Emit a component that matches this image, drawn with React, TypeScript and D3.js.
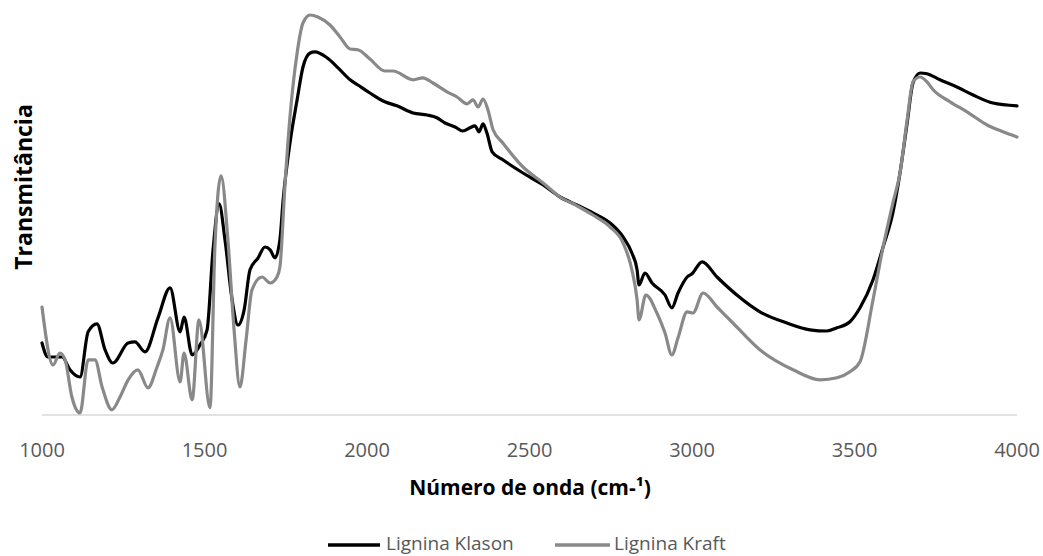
import React from "react";
import * as d3 from "d3";

// FTIR spectra of two lignins (arbitrary transmittance units)
const klasonWavenumber = [
  1000, 1018, 1062, 1086, 1117, 1142, 1169, 1194, 1218, 1265, 1286, 1317, 1357, 1394, 1425, 1437, 1462,
  1486, 1508, 1526, 1545, 1563, 1585, 1603, 1622, 1640, 1665, 1686, 1702, 1717, 1732, 1742, 1763, 1785,
  1803, 1825, 1840, 1877, 1911, 1948, 1972, 2009, 2055, 2092, 2142, 2185, 2215, 2240, 2271, 2295, 2317,
  2332, 2345, 2357, 2369, 2385, 2418, 2480, 2542, 2594, 2646, 2695, 2748, 2788, 2815, 2831, 2837, 2855,
  2877, 2917, 2938, 2957, 2985, 3000, 3031, 3077, 3138, 3209, 3292, 3363, 3415, 3446, 3486, 3517, 3557,
  3588, 3618, 3640, 3662, 3680, 3702, 3723, 3763, 3815, 3865, 3926, 4000,
];
const klasonT = [
  18, 14.5, 14.5, 11.3, 9.5, 20.8, 22.8, 16.3, 13, 18, 18.3, 15.8, 24.3, 31.8, 20.8, 24.5, 15,
  17.5, 21.3, 41, 52.8, 43.8, 28.8, 22.5, 26.3, 36.3, 39.3, 42, 41.3, 39.3, 43.8, 53.8, 68, 78.8,
  87, 90.5, 90.8, 89.3, 86.8, 83.8, 82.5, 80.5, 78.3, 77.3, 75.5, 75, 74.3, 73, 72, 71, 71.8,
  72.3, 70.8, 72.8, 70.5, 65.8, 63.8, 60.5, 57.5, 54.5, 52.5, 50.5, 48, 44.5, 40.5, 36.3, 32.5, 35.5,
  33, 30, 26.8, 30.5, 34.5, 35.3, 38.3, 34.5, 30, 25.8, 23, 21.3, 21, 21.8, 23.3, 26.8, 33.8,
  42, 50.5, 60.5, 73, 83, 85.5, 85.3, 83.8, 82, 80, 78, 77.3,
];

const kraftWavenumber = [
  1000, 1034, 1055, 1071, 1092, 1117, 1142, 1163, 1185, 1215, 1240, 1265, 1295, 1326, 1354, 1372, 1394,
  1425, 1437, 1462, 1483, 1517, 1532, 1551, 1572, 1591, 1609, 1628, 1646, 1677, 1702, 1723, 1732, 1748,
  1763, 1785, 1803, 1825, 1849, 1886, 1917, 1948, 1972, 2009, 2055, 2080, 2142, 2172, 2203, 2246, 2277,
  2308, 2326, 2342, 2357, 2372, 2388, 2418, 2480, 2542, 2594, 2646, 2695, 2748, 2788, 2815, 2831, 2837,
  2858, 2892, 2917, 2938, 2957, 2985, 3003, 3034, 3077, 3126, 3209, 3311, 3394, 3446, 3486, 3517, 3557,
  3588, 3618, 3640, 3662, 3680, 3702, 3723, 3742, 3794, 3846, 3908, 3957, 4000,
];
const kraftT = [
  27, 12.5, 15.5, 13.8, 4.5, 0.5, 13.8, 13.8, 7, 1.3, 4.5, 8.8, 11.3, 6.8, 12, 16.3, 24.3,
  8.3, 15.5, 3.8, 23.8, 1.8, 42, 59.8, 43.8, 21.3, 7, 18.8, 31.3, 34.5, 33, 34.5, 37, 58,
  74.5, 90.5, 98, 100, 99.5, 97.5, 94.5, 91.5, 91.3, 89, 86, 86, 83.8, 84.3, 83, 80.8, 79.5,
  77.8, 78.8, 77, 79, 76.3, 71.3, 68, 62, 58, 54.5, 52.3, 50, 47, 43, 36.3, 28.8, 23.8,
  30, 25.5, 20.5, 15, 19.3, 25.8, 25.5, 30.5, 27, 23, 16.3, 11.3, 8.8, 9.3, 10.8, 13.3, 28.8,
  42, 53, 60.5, 73.8, 83.3, 84.5, 83.3, 81.3, 78.3, 75.8, 72.5, 70.8, 69.5,
];

const xTicks = [1000, 1500, 2000, 2500, 3000, 3500, 4000];
const seriesNames = ["Lignina Klason", "Lignina Kraft"];
const seriesColors = ["#000000", "#898989"];

const W = 1043;
const H = 556;

export default function App() {
  const x = d3.scaleLinear().domain([1000, 4000]).range([42, 1017]);
  const y = d3.scaleLinear().domain([0, 100]).range([415, 15]);

  const line = d3
    .line<[number, number]>()
    .x((d) => x(d[0]))
    .y((d) => y(d[1]))
    .curve(d3.curveMonotoneX);

  const klason: [number, number][] = klasonWavenumber.map((w, i) => [w, klasonT[i]]);
  const kraft: [number, number][] = kraftWavenumber.map((w, i) => [w, kraftT[i]]);
  const series = [klason, kraft];

  const font = "'Open Sans', sans-serif";

  return (
    <svg
      width={W}
      height={H}
      style={{ position: "absolute", left: 0, top: 0, background: "#fff" }}
      fontFamily={font}
    >
      {/* baseline axis */}
      <line x1={x(1000)} x2={x(4000)} y1={y(0)} y2={y(0)} stroke="#d9d9d9" strokeWidth={1.3} />

      {series.map((s, i) => (
        <path
          key={seriesNames[i]}
          d={line(s) || ""}
          fill="none"
          stroke={seriesColors[i]}
          strokeWidth={3.2}
          strokeLinejoin="round"
          strokeLinecap="round"
        />
      ))}

      {xTicks.map((t) => (
        <text key={t} x={x(t)} y={457} textAnchor="middle" fontSize={20} fill="#595959">
          {t}
        </text>
      ))}

      <text x={530} y={495} textAnchor="middle" fontSize={21} fontWeight="bold" fill="#000">
        Número de onda (cm-¹)
      </text>

      <text
        x={0}
        y={0}
        transform={`translate(32,187) rotate(-90)`}
        textAnchor="middle"
        fontSize={23}
        fontWeight="bold"
        fill="#000"
      >
        Transmitância
      </text>

      {/* legend */}
      {[
        { x0: 328, x1: 380, tx: 386 },
        { x0: 555, x1: 610, tx: 614 },
      ].map((p, i) => (
        <g key={seriesNames[i]}>
          <line x1={p.x0} x2={p.x1} y1={545} y2={545} stroke={seriesColors[i]} strokeWidth={3.5} />
          <text x={p.tx} y={550} fontSize={19} fill="#595959">
            {seriesNames[i]}
          </text>
        </g>
      ))}
    </svg>
  );
}
